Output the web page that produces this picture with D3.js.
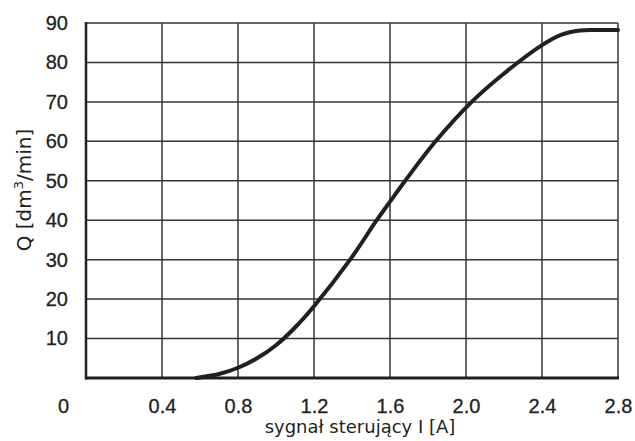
<!DOCTYPE html>
<html lang="pl">
<head>
<meta charset="UTF-8">
<title>Q(I)</title>
<style>
  body { margin: 0; background: #fff; }
  svg { display: block; }
  .tick text { font-family: "Liberation Sans", Arial, sans-serif; font-size: 20px; fill: #231f20; stroke: #231f20; stroke-width: 0.3; }
  .title { font-family: "DejaVu Sans", sans-serif; font-size: 20px; fill: #231f20; }
  .xtitle { font-family: "DejaVu Sans", sans-serif; font-size: 18px; fill: #231f20; }
</style>
</head>
<body>
<svg></svg>
<script src="https://cdnjs.cloudflare.com/ajax/libs/d3/7.8.5/d3.min.js"></script>
<script>
// control current I [A] and flow Q [dm3/min]
const current = [0.58, 0.7, 0.8, 0.9, 1.0, 1.1,  1.2,  1.39, 1.53, 1.6,  1.68, 1.84, 2.03, 2.2,  2.4,  2.5, 2.6,  2.7,  2.8];
const flow    = [0,    1.0, 2.6, 5.0, 8.3, 12.8, 18.2, 30,   40,   44.7, 50,   60,   70,   77.2, 84.4, 87,  88.1, 88.2, 88.2];
const xTicks = [0, 0.4, 0.8, 1.2, 1.6, 2.0, 2.4, 2.8];
const yTicks = [10, 20, 30, 40, 50, 60, 70, 80, 90];

const width = 635, height = 441;
const margin = {top: 23, right: 17, bottom: 63, left: 86};

const svg = d3.select('svg').attr('width', width).attr('height', height);
const x = d3.scaleLinear().domain([0, 2.8]).range([margin.left, width - margin.right]);
const y = d3.scaleLinear().domain([0, 90]).range([height - margin.bottom, margin.top]);

const ink = '#231f20';

// grid
svg.append('g').selectAll('line').data(yTicks).join('line')
  .attr('x1', x(0)).attr('x2', x(2.8))
  .attr('y1', d => y(d)).attr('y2', d => y(d))
  .attr('stroke', '#333').attr('stroke-width', 1.5);
svg.append('g').selectAll('line').data(xTicks.slice(1)).join('line')
  .attr('x1', d => x(d)).attr('x2', d => x(d))
  .attr('y1', y(0)).attr('y2', y(90))
  .attr('stroke', '#333').attr('stroke-width', 1.5);

// axes
const xAxis = svg.append('g')
  .attr('transform', `translate(0,${y(0)})`)
  .call(d3.axisBottom(x).tickValues(xTicks).tickFormat(d3.format('.1f')).tickSize(0).tickPadding(21));
xAxis.select('.domain').remove();
xAxis.selectAll('.tick text').filter(d => d === 0).text('0').attr('dx', -23);

const yAxis = svg.append('g')
  .attr('transform', `translate(${x(0)},0)`)
  .call(d3.axisLeft(y).tickValues(yTicks).tickSize(0).tickPadding(18));
yAxis.select('.domain').remove();

svg.append('line')
  .attr('x1', x(0)).attr('x2', x(0)).attr('y1', y(90) - 1).attr('y2', y(0) + 1.5)
  .attr('stroke', ink).attr('stroke-width', 2.5);
svg.append('line')
  .attr('x1', x(0) - 1).attr('x2', x(2.8) + 1).attr('y1', y(0)).attr('y2', y(0))
  .attr('stroke', ink).attr('stroke-width', 3);

// curve
const pts = current.map((c, i) => [c, flow[i]]);
svg.append('path')
  .datum(pts)
  .attr('fill', 'none')
  .attr('stroke', ink)
  .attr('stroke-width', 4)
  .attr('stroke-linecap', 'round')
  .attr('d', d3.line().x(d => x(d[0])).y(d => y(d[1])).curve(d3.curveCatmullRom.alpha(0.5)));

// titles
svg.append('text').attr('class', 'xtitle')
  .attr('x', 360).attr('y', 433).attr('text-anchor', 'middle')
  .text('sygnał sterujący I [A]');

const yt = svg.append('text').attr('class', 'title')
  .attr('transform', 'translate(31,190) rotate(-90)')
  .attr('text-anchor', 'middle');
yt.append('tspan').text('Q [dm');
yt.append('tspan').attr('dy', -8).attr('font-size', 13).text('3');
yt.append('tspan').attr('dy', 8).text('/min]');
</script>
</body>
</html>
